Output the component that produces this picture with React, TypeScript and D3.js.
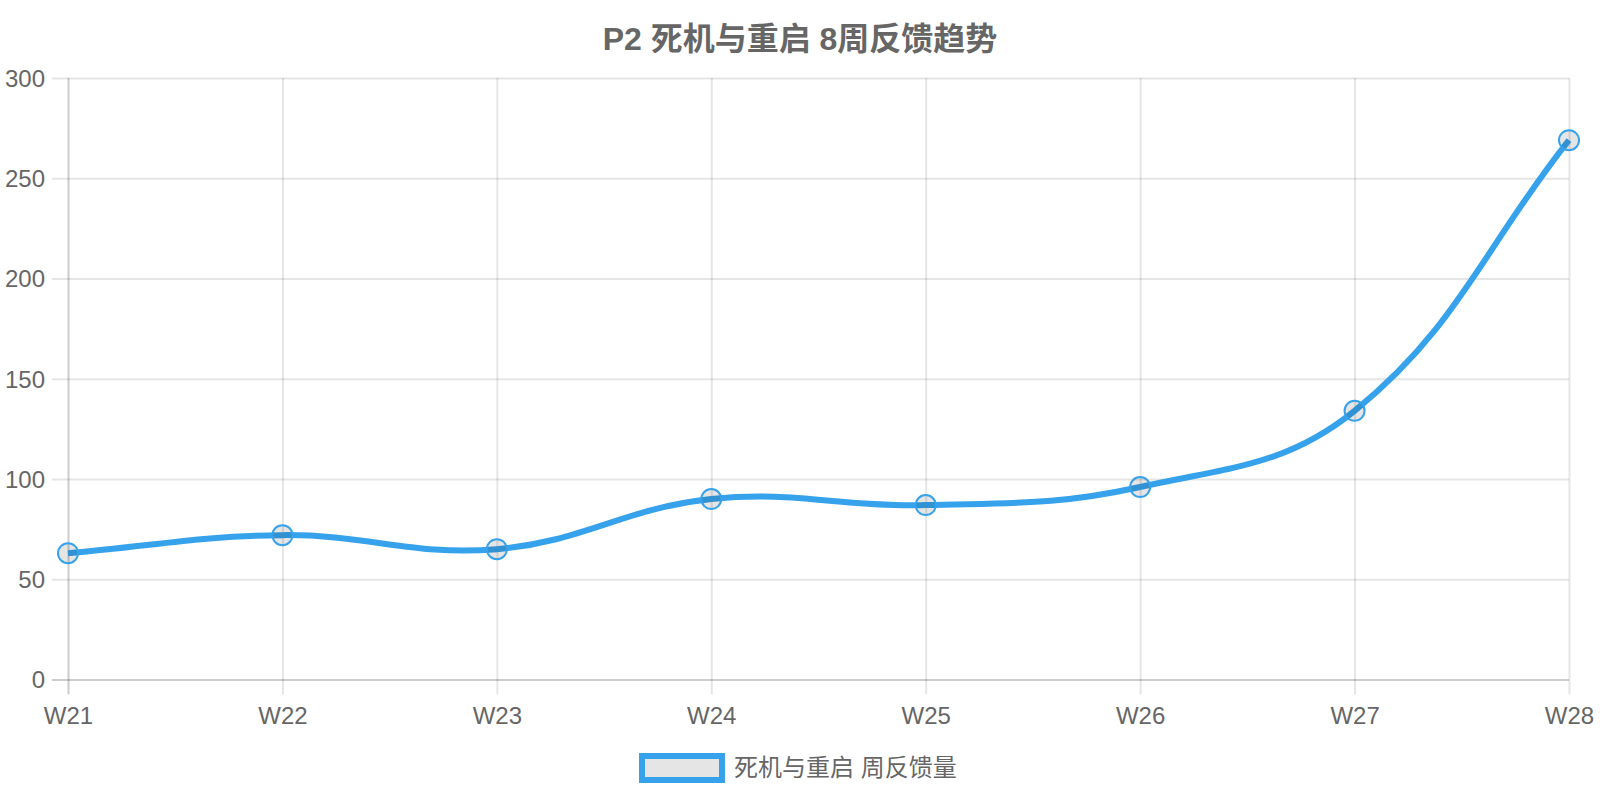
import { useEffect, useRef } from "react";
import * as d3 from "d3";

const weeks = ["W21", "W22", "W23", "W24", "W25", "W26", "W27", "W28"];
const feedback = [63, 72, 65, 90, 87, 96, 134, 269];
const yTicks = [0, 50, 100, 150, 200, 250, 300];

const title = "P2 死机与重启 8周反馈趋势";
const seriesName = "死机与重启 周反馈量";

const WIDTH = 1600;
const HEIGHT = 800;
const FONT = '"Liberation Sans", Arial, "Noto Sans CJK SC", sans-serif';
const BLUE = "rgb(54,162,235)";

// chart.js style spline (tension 0.4, distance weighted, capped to the chart area)
function splinePath(pts: [number, number][], t: number, area: { l: number; r: number; t: number; b: number }) {
  const cps = pts.map((cur, i) => {
    const prev = pts[i - 1] || cur;
    const next = pts[i + 1] || cur;
    const d01 = Math.hypot(cur[0] - prev[0], cur[1] - prev[1]);
    const d12 = Math.hypot(next[0] - cur[0], next[1] - cur[1]);
    let s01 = d01 / (d01 + d12);
    let s12 = d12 / (d01 + d12);
    if (isNaN(s01)) s01 = 0;
    if (isNaN(s12)) s12 = 0;
    const fa = t * s01;
    const fb = t * s12;
    const clampX = (v: number) => Math.max(area.l, Math.min(area.r, v));
    const clampY = (v: number) => Math.max(area.t, Math.min(area.b, v));
    return {
      px: clampX(cur[0] - fa * (next[0] - prev[0])),
      py: clampY(cur[1] - fa * (next[1] - prev[1])),
      nx: clampX(cur[0] + fb * (next[0] - prev[0])),
      ny: clampY(cur[1] + fb * (next[1] - prev[1])),
    };
  });
  const p = d3.path();
  pts.forEach((pt, i) => {
    if (i === 0) p.moveTo(pt[0], pt[1]);
    else p.bezierCurveTo(cps[i - 1].nx, cps[i - 1].ny, cps[i].px, cps[i].py, pt[0], pt[1]);
  });
  return p.toString();
}

const App = () => {
  const ref = useRef<SVGSVGElement>(null);

  useEffect(() => {
    const svg = d3.select(ref.current);
    svg.selectAll("*").remove();

    const left = 68;
    const right = 1569;
    const top = 78;
    const bottom = 679.5;

    const x = d3.scalePoint<string>().domain(weeks).range([left, right]);
    const y = d3.scaleLinear().domain([0, 300]).range([bottom, top]);

    // title
    svg
      .append("text")
      .attr("x", WIDTH / 2)
      .attr("y", 50)
      .attr("text-anchor", "middle")
      .attr("font-family", FONT)
      .attr("font-size", 32)
      .attr("font-weight", "bold")
      .attr("fill", "#666")
      .text(title);

    // horizontal grid + y labels
    const yAxis = d3
      .axisLeft(y)
      .tickValues(yTicks)
      .tickSize(0)
      .tickFormat((d) => String(d));
    svg
      .append("g")
      .attr("transform", `translate(${left - 16},0)`)
      .call(yAxis)
      .call((g) => g.select(".domain").remove())
      .call((g) =>
        g
          .selectAll(".tick line")
          .attr("x1", 0)
          .attr("x2", right - left + 16)
          .attr("stroke", (d) => ((d as number) === 0 ? "rgba(0,0,0,0.2)" : "rgba(0,0,0,0.1)"))
          .attr("stroke-width", 2)
      )
      .call((g) =>
        g
          .selectAll(".tick text")
          .attr("x", -7)
          .attr("dy", "0.35em")
          .attr("font-family", FONT)
          .attr("font-size", 24)
          .attr("fill", "#666")
      );

    // vertical grid + x labels
    const xAxis = d3
      .axisBottom(x)
      .tickSize(bottom - top + 15)
      .tickPadding(0)
      .tickFormat((d) => d);
    svg
      .append("g")
      .attr("transform", `translate(0,${top})`)
      .call(xAxis)
      .call((g) => g.select(".domain").remove())
      .call((g) =>
        g
          .selectAll(".tick line")
          .attr("stroke", (_, i) => (i === 0 ? "rgba(0,0,0,0.2)" : "rgba(0,0,0,0.1)"))
          .attr("stroke-width", 2)
      )
      .call((g) =>
        g
          .selectAll(".tick text")
          .attr("y", bottom - top + 44)
          .attr("dy", 0)
          .attr("font-family", FONT)
          .attr("font-size", 24)
          .attr("fill", "#666")
      );

    // line
    const pts = weeks.map((w, i) => [x(w)!, y(feedback[i])] as [number, number]);
    svg
      .append("path")
      .attr("d", splinePath(pts, 0.4, { l: left, r: right, t: top, b: bottom }))
      .attr("fill", "none")
      .attr("stroke", BLUE)
      .attr("stroke-width", 6);

    // points
    svg
      .selectAll("circle.pt")
      .data(feedback)
      .enter()
      .append("circle")
      .attr("class", "pt")
      .attr("cx", (_, i) => x(weeks[i])!)
      .attr("cy", (d) => y(d))
      .attr("r", 10)
      .attr("fill", "rgba(0,0,0,0.1)")
      .attr("stroke", BLUE)
      .attr("stroke-width", 2);

    // legend
    const lg = svg.append("g");
    lg.append("rect")
      .attr("x", 642)
      .attr("y", 756)
      .attr("width", 80)
      .attr("height", 24)
      .attr("fill", "rgba(0,0,0,0.1)")
      .attr("stroke", BLUE)
      .attr("stroke-width", 6);
    lg.append("text")
      .attr("x", 734)
      .attr("y", 768)
      .attr("dy", "0.35em")
      .attr("font-family", FONT)
      .attr("font-size", 24)
      .attr("fill", "#666")
      .text(seriesName);
  }, []);

  return (
    <svg
      ref={ref}
      width={WIDTH}
      height={HEIGHT}
      style={{ position: "absolute", left: 0, top: 0, background: "#fff" }}
    />
  );
};

export default App;
